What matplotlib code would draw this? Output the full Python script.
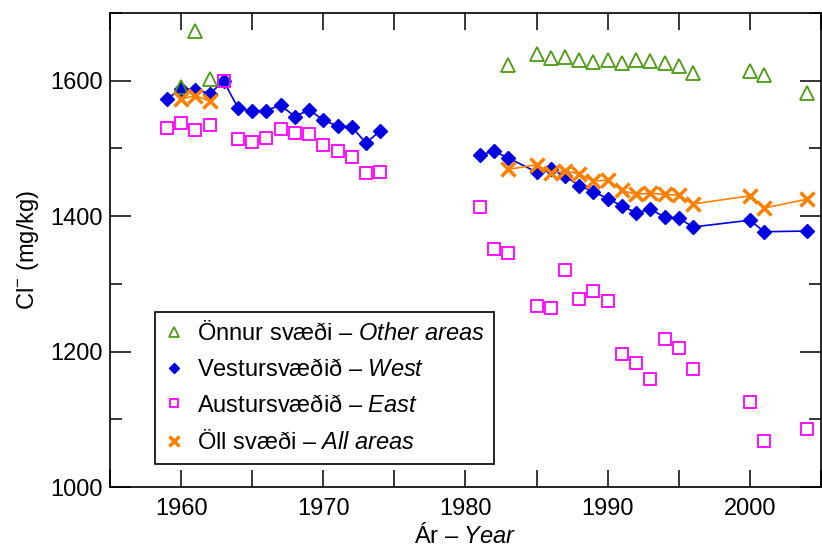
import matplotlib
matplotlib.use('Agg')
import matplotlib.pyplot as plt
import numpy as np
from matplotlib.ticker import MultipleLocator

plt.rcParams['font.family'] = ['Liberation Sans', 'DejaVu Sans']
plt.rcParams['mathtext.fontset'] = 'custom'
plt.rcParams['mathtext.rm'] = 'Liberation Sans'
plt.rcParams['mathtext.it'] = 'Liberation Sans:italic'

# Önnur svæði / other areas
other_years = [1960, 1961, 1962, 1983, 1985, 1986, 1987, 1988, 1989, 1990, 1991,
               1992, 1993, 1994, 1995, 1996, 2000, 2001, 2004]
other_cl = [1590, 1673, 1603, 1623, 1639, 1634, 1635, 1631, 1627, 1631, 1626,
            1630, 1629, 1626, 1622, 1611, 1615, 1609, 1582]

# Vestursvæðið / west
west_years = [1959, 1960, 1961, 1962, 1963, 1964, 1965, 1966, 1967, 1968, 1969,
              1970, 1971, 1972, 1973, 1974,
              1981, 1982, 1983, 1985, 1986, 1987, 1988, 1989, 1990, 1991, 1992,
              1993, 1994, 1995, 1996, 2000, 2001, 2004]
west_cl = [1573, 1588, 1587, 1581, 1599, 1560, 1555, 1556, 1564, 1547, 1557,
           1542, 1533, 1532, 1508, 1526,
           1490, 1496, 1486, 1465, 1469, 1459, 1445, 1436, 1426, 1415, 1405,
           1410, 1399, 1397, 1384, 1394, 1377, 1378]

# Austursvæðið / east
east_years = [1959, 1960, 1961, 1962, 1963, 1964, 1965, 1966, 1967, 1968, 1969,
              1970, 1971, 1972, 1973, 1974,
              1981, 1982, 1983, 1985, 1986, 1987, 1988, 1989, 1990, 1991, 1992,
              1993, 1994, 1995, 1996, 2000, 2001, 2004]
east_cl = [1530, 1537, 1527, 1534, 1599, 1514, 1510, 1516, 1529, 1523, 1521,
           1505, 1496, 1487, 1463, 1465,
           1413, 1351, 1346, 1268, 1265, 1320, 1278, 1289, 1275, 1196, 1183,
           1160, 1219, 1205, 1174, 1125, 1068, 1086]

# Öll svæði / all areas
all_years = [1960, 1961, 1962, 1983, 1985, 1986, 1987, 1988, 1989, 1990, 1991,
             1992, 1993, 1994, 1995, 1996, 2000, 2001, 2004]
all_cl = [1573, 1578, 1570, 1469, 1476, 1464, 1467, 1462, 1452, 1453, 1438,
          1432, 1434, 1432, 1431, 1418, 1430, 1412, 1425]


def segments(years, vals, gap=5):
    # split a series where sampling stops for several years
    years = np.asarray(years)
    vals = np.asarray(vals)
    cut = np.where(np.diff(years) > gap)[0] + 1
    return zip(np.split(years, cut), np.split(vals, cut))


c_other = '#4c9a12'
c_west = '#0000e0'
c_east = '#ff00ff'
c_all = '#ff8000'

fig = plt.figure(figsize=(8.22, 5.58), dpi=100)
ax = fig.add_axes([0.1338, 0.1272, 0.8650, 0.8495])

for yr, v in segments(west_years, west_cl):
    ax.plot(yr, v, '-', color=c_west, lw=1.2, zorder=2)
h_west, = ax.plot(west_years, west_cl, 'D', ls='none', color=c_west, ms=7.4,
                  mec=c_west, zorder=3)
h_east, = ax.plot(east_years, east_cl, 's', ls='none', mfc='none', mec=c_east,
                  ms=8.8, mew=1.3, zorder=4)
h_other, = ax.plot(other_years, other_cl, '^', ls='none', mfc='none', mec=c_other,
                   ms=9.5, mew=1.3, zorder=5)
for yr, v in segments(all_years, all_cl):
    ax.plot(yr, v, '-', color=c_all, lw=1.2, zorder=5)
h_all, = ax.plot(all_years, all_cl, 'x', ls='none', color=c_all, ms=10, mew=2.5,
                 zorder=6)

ax.set_xlim(1955, 2005)
ax.set_ylim(1000, 1700)
ax.xaxis.set_major_locator(MultipleLocator(10))
ax.xaxis.set_minor_locator(MultipleLocator(5))
ax.yaxis.set_major_locator(MultipleLocator(200))
ax.yaxis.set_minor_locator(MultipleLocator(100))

ax.tick_params(axis='both', which='both', direction='in', top=True, right=True,
               width=1.1, labelsize=17)
ax.tick_params(axis='x', which='both', length=12.2, pad=8)
ax.tick_params(axis='y', which='major', length=15, pad=5)
ax.tick_params(axis='y', which='minor', length=8.6)
for sp in ax.spines.values():
    sp.set_linewidth(1.2)

ax.set_xlabel('Ár – $\\mathit{Year}$', fontsize=17, labelpad=2)
ax.set_ylabel('Cl$^{-}$ (mg/kg)', fontsize=17, labelpad=7)

leg = ax.legend([h_other, h_west, h_east, h_all],
                ['Önnur svæði – $\\mathit{Other\\ areas}$',
                 'Vestursvæðið – $\\mathit{West}$',
                 'Austursvæðið – $\\mathit{East}$',
                 'Öll svæði – $\\mathit{All\\ areas}$'],
                loc='lower left', bbox_to_anchor=(0.063, 0.049), borderaxespad=0,
                fontsize=17, fancybox=False, framealpha=1, edgecolor='black',
                markerscale=0.72, handlelength=0.8, handletextpad=0.6,
                labelspacing=0.58, borderpad=0.4)
leg.get_frame().set_linewidth(1.2)

plt.savefig('out.png', dpi=100)
